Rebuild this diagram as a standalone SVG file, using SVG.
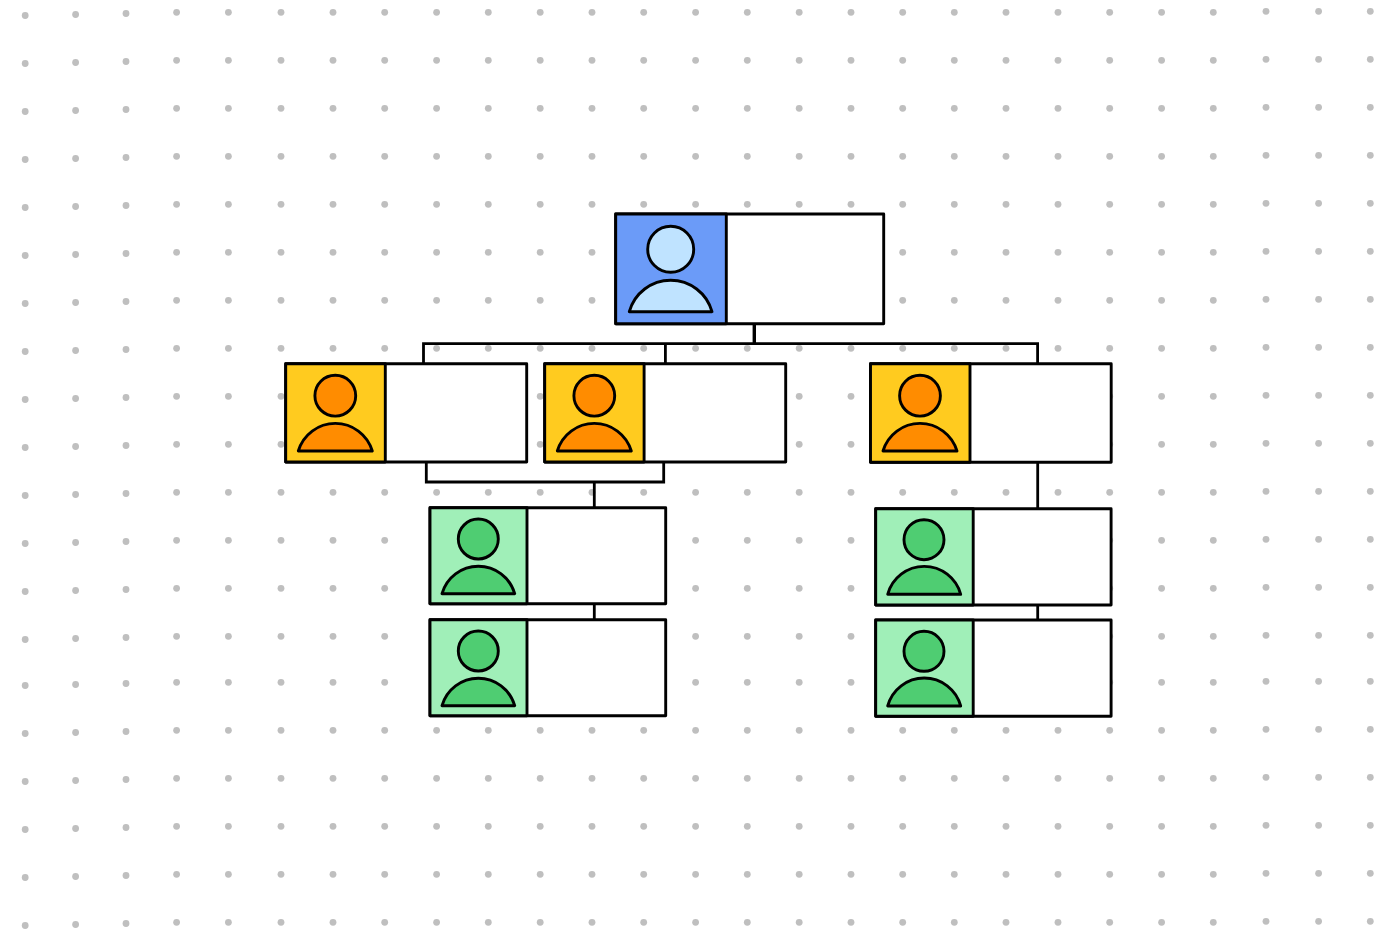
<svg xmlns="http://www.w3.org/2000/svg" width="1396" height="931" viewBox="0 0 1396 931">
<style>
.dot{fill:#bfbfbf}
.card{fill:#fff;stroke:#000;stroke-width:2.9;stroke-linejoin:round}
.line{fill:none;stroke:#000;stroke-width:2.8;stroke-linejoin:miter}
.stem{stroke-width:3.4}
.ink{stroke:#000;stroke-width:2.9;stroke-linejoin:round}
.blue{fill:#6b9bf8}.blue2{fill:#bfe3ff}
.yel{fill:#ffcb1f}.yel2{fill:#ff8c00}
.grn{fill:#a0efb8}.grn2{fill:#4fcd72}
</style>
<defs>
<g id="col">
<circle class="dot" cx="0" cy="0" r="3.4"/><circle class="dot" cx="0" cy="48" r="3.4"/><circle class="dot" cx="0" cy="96" r="3.4"/><circle class="dot" cx="0" cy="144" r="3.4"/><circle class="dot" cx="0" cy="192" r="3.4"/><circle class="dot" cx="0" cy="240" r="3.4"/><circle class="dot" cx="0" cy="288" r="3.4"/><circle class="dot" cx="0" cy="336" r="3.4"/><circle class="dot" cx="0" cy="384" r="3.4"/><circle class="dot" cx="0" cy="432" r="3.4"/><circle class="dot" cx="0" cy="480" r="3.4"/><circle class="dot" cx="0" cy="528" r="3.4"/><circle class="dot" cx="0" cy="576" r="3.4"/><circle class="dot" cx="0" cy="624" r="3.4"/><circle class="dot" cx="0" cy="670" r="3.4"/><circle class="dot" cx="0" cy="718" r="3.4"/><circle class="dot" cx="0" cy="766" r="3.4"/><circle class="dot" cx="0" cy="814" r="3.4"/><circle class="dot" cx="0" cy="862" r="3.4"/><circle class="dot" cx="0" cy="910" r="3.4"/>
</g>
</defs>
<rect width="1396" height="931" fill="#fff"/>
<g id="grid">
<use href="#col" x="25.2" y="15.5"/><use href="#col" x="75.6" y="14.5"/><use href="#col" x="126" y="13.5"/><use href="#col" x="176.6" y="12.3"/><use href="#col" x="228.4" y="12.3"/><use href="#col" x="281" y="12.3"/><use href="#col" x="333" y="12.3"/><use href="#col" x="384.7" y="12.3"/><use href="#col" x="436.6" y="12.3"/><use href="#col" x="488.3" y="12.3"/><use href="#col" x="540.2" y="12.3"/><use href="#col" x="592" y="12.3"/><use href="#col" x="643.7" y="12.3"/><use href="#col" x="695.6" y="12.3"/><use href="#col" x="747.3" y="12.3"/><use href="#col" x="799.2" y="12.3"/><use href="#col" x="851" y="12.3"/><use href="#col" x="902.7" y="12.3"/><use href="#col" x="954.3" y="12.3"/><use href="#col" x="1006" y="12.3"/><use href="#col" x="1058" y="12.3"/><use href="#col" x="1109.7" y="12.3"/><use href="#col" x="1161.6" y="12.3"/><use href="#col" x="1213.3" y="12.3"/><use href="#col" x="1266" y="11.3"/><use href="#col" x="1318.6" y="11.3"/><use href="#col" x="1370.3" y="11.3"/>
</g>
<g id="connectors">
<path class="line stem" d="M754.3 325V343.7"/>
<path class="line" d="M423.5 363.7V343.7H1037.6V363.7"/>
<path class="line" d="M665.4 343.7V363.7"/>
<path class="line" d="M426.3 462V482H663.7V462"/>
<path class="line" d="M594.3 482V507.7"/>
<path class="line" d="M594.3 603.7V619.7"/>
<path class="line" d="M1037.7 462.3V508.7"/>
<path class="line" d="M1037.7 605V620"/>
</g>
<g id="node-root">
<rect class="card" x="615.7" y="214" width="268" height="109.7"/>
<rect class="ink blue" x="615.7" y="214" width="110.6" height="109.7"/>
<circle class="ink blue2" cx="670.7" cy="249.3" r="23"/>
<path class="ink blue2" d="M629.3 311.7A42.9 42.9 0 0 1 712 311.7Z"/>
</g>
<g id="node-a">
<rect class="card" x="285.7" y="363.7" width="241" height="98.3"/>
<rect class="ink yel" x="285.7" y="363.7" width="99.6" height="98.3"/>
<circle class="ink yel2" cx="335.3" cy="395.7" r="20.4"/>
<path class="ink yel2" d="M298.3 451A38.6 38.6 0 0 1 372.3 451Z"/>
</g>
<g id="node-b">
<rect class="card" x="544.7" y="363.7" width="241" height="98.3"/>
<rect class="ink yel" x="544.7" y="363.7" width="99.4" height="98.3"/>
<circle class="ink yel2" cx="594.3" cy="395.7" r="20.4"/>
<path class="ink yel2" d="M557.3 451A38.6 38.6 0 0 1 631.3 451Z"/>
</g>
<g id="node-c">
<rect class="card" x="870.5" y="363.7" width="240.7" height="98.5"/>
<rect class="ink yel" x="870.5" y="363.7" width="99.5" height="98.5"/>
<circle class="ink yel2" cx="920" cy="395.7" r="20.4"/>
<path class="ink yel2" d="M883 451A38.6 38.6 0 0 1 957 451Z"/>
</g>
<g id="node-d">
<rect class="card" x="430" y="507.7" width="235.7" height="96"/>
<rect class="ink grn" x="430" y="507.7" width="97" height="96"/>
<circle class="ink grn2" cx="478.3" cy="539" r="20"/>
<path class="ink grn2" d="M442 593.7A37.8 37.8 0 0 1 514.7 593.7Z"/>
</g>
<g id="node-e">
<rect class="card" x="430" y="619.7" width="235.7" height="96"/>
<rect class="ink grn" x="430" y="619.7" width="97" height="96"/>
<circle class="ink grn2" cx="478.3" cy="651" r="20"/>
<path class="ink grn2" d="M442 705.7A37.8 37.8 0 0 1 514.7 705.7Z"/>
</g>
<g id="node-f">
<rect class="card" x="875.7" y="508.7" width="235.4" height="96.3"/>
<rect class="ink grn" x="875.7" y="508.7" width="97.5" height="96.3"/>
<circle class="ink grn2" cx="924" cy="539.7" r="20"/>
<path class="ink grn2" d="M887.7 594.3A37.8 37.8 0 0 1 960.7 594.3Z"/>
</g>
<g id="node-g">
<rect class="card" x="875.7" y="620" width="235.4" height="96.3"/>
<rect class="ink grn" x="875.7" y="620" width="97.5" height="96.3"/>
<circle class="ink grn2" cx="924" cy="651.3" r="20"/>
<path class="ink grn2" d="M887.7 706A37.8 37.8 0 0 1 960.7 706Z"/>
</g>
</svg>
